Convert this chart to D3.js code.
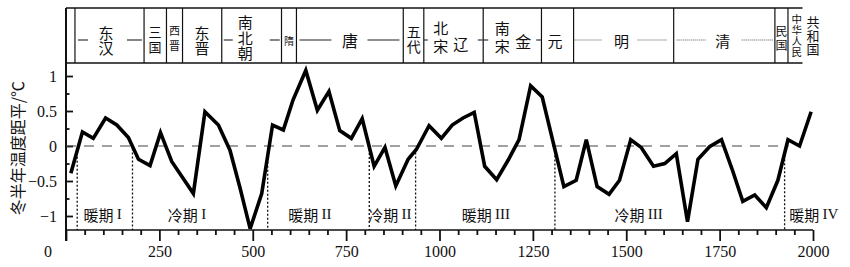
<!DOCTYPE html>
<html>
<head>
<meta charset="utf-8">
<script src="https://cdn.jsdelivr.net/npm/d3@7"></script>
<style>
  body { margin: 0; background: #fff; }
  svg { display: block; }
  .cjk { font-family: "Noto Sans CJK SC", sans-serif; }
  .num { font-family: "Liberation Serif", "DejaVu Serif", serif; }
  .vert { writing-mode: vertical-rl; text-orientation: upright; }
</style>
</head>
<body>
<div id="chart"></div>
<script>
// winter half-year temperature anomaly (°C)
var years = [13, 44, 73, 106, 136, 167, 194, 225, 253, 283, 312, 341, 372, 408, 439, 466, 493, 524, 553, 582,
             608, 642, 673, 704, 733, 764, 793, 825, 854, 883, 916, 938, 972, 1005, 1034, 1063, 1093, 1121, 1153, 1184,
             1213, 1244, 1275, 1333, 1366, 1393, 1422, 1454, 1482, 1512, 1540, 1573, 1603, 1634, 1664, 1692, 1723, 1755,
             1784, 1812, 1844, 1875, 1906, 1933, 1964, 1995];
var anomaly = [-0.39, 0.20, 0.11, 0.40, 0.30, 0.12, -0.19, -0.28, 0.19, -0.22, -0.45, -0.68, 0.49, 0.30, -0.06, -0.60, -1.18, -0.68, 0.30, 0.23,
               0.66, 1.08, 0.51, 0.78, 0.22, 0.11, 0.39, -0.29, -0.02, -0.57, -0.19, -0.05, 0.29, 0.11, 0.30, 0.40, 0.48, -0.29, -0.48, -0.20,
               0.09, 0.86, 0.70, -0.58, -0.49, 0.09, -0.58, -0.69, -0.49, 0.09, -0.02, -0.29, -0.25, -0.11, -1.08, -0.19, -0.01, 0.09,
               -0.34, -0.79, -0.70, -0.88, -0.49, 0.09, 0.00, 0.49];

// dynasties across the top band (start years)
var dynastyNames = ["东汉", "三国", "西晋", "东晋", "南北朝", "隋", "唐", "五代", "北宋|辽", "南宋|金", "元", "明", "清", "民国", "中华人民|共和国"];
var dynastyStart = [24, 209, 269, 312, 417, 577, 617, 903, 958, 1117, 1273, 1359, 1627, 1898, 1933];
var bandEnd = 1972;

// warm / cold periods
var periodBounds = [30, 178, 540, 812, 936, 1309, 1924];
var periodNames = ["暖期", "冷期", "暖期", "冷期", "暖期", "冷期", "暖期"];
var periodNums = ["I", "I", "II", "II", "III", "III", "IV"];
var periodLabelYear = [98, 324, 653, 867, 1124, 1533, 2002];

var xMajor = [0, 250, 500, 750, 1000, 1250, 1500, 1750, 2000];
var yMajor = [-1, -0.5, 0, 0.5, 1];

var W = 850, H = 267;
var bandTop = 8, bandBottom = 63, axisY = 230;

var x = d3.scaleLinear().domain([0, 2000]).range([66, 813]);
var y = d3.scaleLinear().domain([-1.2, 1.186]).range([axisY, bandBottom]);

var svg = d3.select("#chart").append("svg").attr("width", W).attr("height", H);

// ---- dynasty band ----
// text layout per cell: offsets in px from the cell's left edge
var cellLayout = [
  { g: [{ dx: 31, y0: 33, step: 15, size: 15 }], dash: [[3, 13], [52, 67]] },
  { g: [{ dx: 11, y0: 33, step: 15, size: 13 }] },
  { g: [{ dx: 8, y0: 33, step: 15, size: 11 }] },
  { g: [{ dx: 19.5, y0: 33, step: 15, size: 15 }] },
  { g: [{ dx: 23.5, y0: 23, step: 15.5, size: 15 }], dash: [[2, 11], [48, 58]] },
  { g: [{ dx: 7.5, y0: 40, step: 0, size: 10 }] },
  { g: [{ dx: 53.5, y0: 40, step: 0, size: 16 }], dash: [[3, 35], [71, 103]] },
  { g: [{ dx: 10.5, y0: 32, step: 14.5, size: 14 }] },
  { g: [{ dx: 17, y0: 30, step: 18, size: 15 }, { dx: 37, y0: 43, step: 0, size: 15 }], dash: [[0, 4], [54, 59]] },
  { g: [{ dx: 19, y0: 30, step: 17.5, size: 15 }, { dx: 40, y0: 41, step: 0, size: 16 }], dash: [[0, 5], [53, 58]] },
  { g: [{ dx: 13.5, y0: 40, step: 0, size: 15 }] },
  { g: [{ dx: 48, y0: 40, step: 0, size: 15 }], dot: [[1, 29], [64, 93]] },
  { g: [{ dx: 49, y0: 40, step: 0, size: 15 }], dot: [[3, 33], [68, 99]] },
  { g: [{ dx: 6.7, y0: 32.5, step: 14, size: 12 }] },
  { g: [{ dx: 8.7, y0: 19, step: 11, size: 10.5 }, { dx: 25, y0: 22.5, step: 13.5, size: 13 }] }
];

var band = svg.append("g");
band.append("line").attr("x1", x(0)).attr("x2", x(bandEnd)).attr("y1", bandTop).attr("y2", bandTop)
  .attr("stroke", "#111").attr("stroke-width", 1.5);
band.append("line").attr("x1", x(0)).attr("x2", x(bandEnd)).attr("y1", bandBottom).attr("y2", bandBottom)
  .attr("stroke", "#111").attr("stroke-width", 1.5);
band.selectAll(".div").data(dynastyStart).enter().append("line")
  .attr("x1", function(d) { return x(d); }).attr("x2", function(d) { return x(d); })
  .attr("y1", bandTop).attr("y2", bandBottom)
  .attr("stroke", "#111").attr("stroke-width", 1.2);

dynastyNames.forEach(function(name, i) {
  var left = x(dynastyStart[i]);
  var lay = cellLayout[i];
  var parts = name.split("|");
  parts.forEach(function(part, j) {
    var g = lay.g[j];
    var n = part.length;
    if (n === 1) {
      band.append("text").attr("class", "cjk")
        .attr("x", left + g.dx).attr("y", g.y0)
        .attr("text-anchor", "middle").attr("dominant-baseline", "central")
        .attr("font-size", g.size).attr("fill", "#111").text(part);
    } else {
      // stacked column: one vertical text, spacing set by letter-spacing
      band.append("text").attr("class", "cjk vert")
        .attr("x", left + g.dx).attr("y", g.y0 + (n - 1) * g.step / 2)
        .attr("text-anchor", "middle")
        .attr("font-size", g.size).attr("fill", "#111")
        .style("letter-spacing", (g.step - g.size) + "px")
        .text(part);
    }
  });
  (lay.dash || []).forEach(function(s) {
    band.append("line").attr("x1", left + s[0]).attr("x2", left + s[1]).attr("y1", 40).attr("y2", 40)
      .attr("stroke", "#222").attr("stroke-width", 1.1);
  });
  (lay.dot || []).forEach(function(s) {
    band.append("line").attr("x1", left + s[0]).attr("x2", left + s[1]).attr("y1", 40).attr("y2", 40)
      .attr("stroke", "#555").attr("stroke-width", 1).attr("stroke-dasharray", "1,1");
  });
});

// ---- axes ----
svg.append("line").attr("x1", x(0)).attr("x2", x(0)).attr("y1", bandTop).attr("y2", axisY + 11)
  .attr("stroke", "#111").attr("stroke-width", 2);

svg.append("g").attr("transform", "translate(" + x(0) + ",0)")
  .call(d3.axisLeft(y).tickValues(yMajor).tickSize(-7).tickPadding(9)
    .tickFormat(function(d) { return d < 0 ? "\u2212" + Math.abs(d) : String(d); }));
svg.append("g").attr("transform", "translate(" + x(0) + ",0)")
  .call(d3.axisLeft(y).tickValues([-0.75, -0.25, 0.25, 0.75]).tickSize(-3.5).tickFormat(""));

svg.append("g").attr("transform", "translate(0," + axisY + ")")
  .call(d3.axisBottom(x).tickValues(xMajor).tickSize(11).tickPadding(5)
    .tickFormat(function(d) { return d === 0 ? "" : d; }));
svg.append("g").attr("transform", "translate(0," + axisY + ")")
  .call(d3.axisBottom(x).tickValues(d3.range(50, 2000, 50).filter(function(d) { return d % 250 !== 0; }))
    .tickSize(5).tickFormat(""));

svg.selectAll(".domain").remove();
svg.selectAll(".tick line").attr("stroke", "#111").attr("stroke-width", 1.8);
svg.selectAll(".tick text").attr("class", "num").attr("font-size", 16).attr("fill", "#111")
  .style("font-family", "'Liberation Serif', serif");

svg.append("line").attr("x1", x(0)).attr("x2", x(2000)).attr("y1", axisY).attr("y2", axisY)
  .attr("stroke", "#111").attr("stroke-width", 1.6);

svg.append("text").attr("class", "num").attr("x", 48).attr("y", axisY + 16).attr("dy", "0.71em")
  .attr("text-anchor", "middle").attr("font-size", 16).attr("fill", "#111").text("0");

svg.append("text").attr("class", "cjk")
  .attr("transform", "translate(17," + y(-0.03) + ") rotate(-90)")
  .attr("text-anchor", "middle").attr("dominant-baseline", "central")
  .attr("font-size", 16).attr("fill", "#111")
  .text("冬半年温度距平/℃");

// ---- zero reference line ----
svg.append("line").attr("x1", x(0)).attr("x2", x(1935)).attr("y1", y(0)).attr("y2", y(0))
  .attr("stroke", "#444").attr("stroke-width", 1.2).attr("stroke-dasharray", "10,8");

// ---- period boundaries ----
function valueAt(yr) {
  var i = d3.bisectLeft(years, yr);
  if (i <= 0) return anomaly[0];
  if (i >= years.length) return anomaly[years.length - 1];
  var t = (yr - years[i - 1]) / (years[i] - years[i - 1]);
  return anomaly[i - 1] + t * (anomaly[i] - anomaly[i - 1]);
}

svg.selectAll(".pb").data(periodBounds).enter().append("line")
  .attr("x1", function(d) { return x(d); }).attr("x2", function(d) { return x(d); })
  .attr("y1", function(d) { return y(valueAt(d)) + 2; }).attr("y2", axisY)
  .attr("stroke", "#111").attr("stroke-width", 1.3).attr("stroke-dasharray", "2,2");

periodNames.forEach(function(name, i) {
  var t = svg.append("text").attr("x", x(periodLabelYear[i])).attr("y", 213.5)
    .attr("text-anchor", "middle").attr("dominant-baseline", "central")
    .attr("font-size", 15).attr("fill", "#111");
  t.append("tspan").attr("class", "cjk").text(name + " ");
  t.append("tspan").attr("class", "num").text(periodNums[i]);
});

// ---- temperature curve ----
var line = d3.line()
  .x(function(d, i) { return x(years[i]); })
  .y(function(d) { return y(d); });

svg.append("path").datum(anomaly)
  .attr("d", line)
  .attr("fill", "none").attr("stroke", "#000").attr("stroke-width", 3.6)
  .attr("stroke-linejoin", "miter").attr("stroke-miterlimit", 3);
</script>
</body>
</html>
